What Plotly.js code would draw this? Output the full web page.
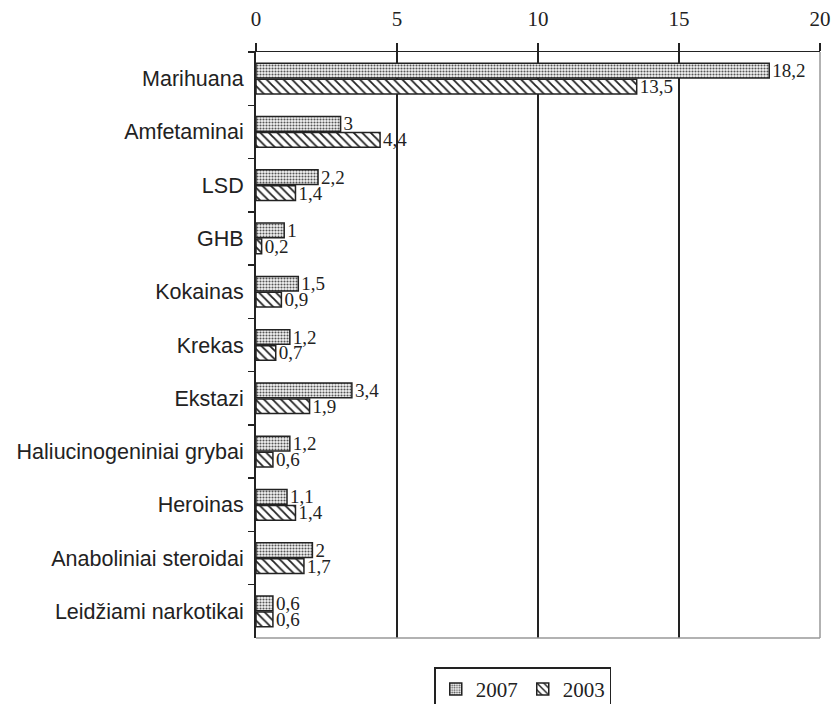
<!DOCTYPE html>
<html>
<head>
<meta charset="utf-8">
<script src="https://cdn.plot.ly/plotly-3.0.1.min.js"></script>
<style>html,body{margin:0;padding:0;background:#fff;}#chart{width:831px;height:704px;}</style>
</head>
<body>
<div id="chart"></div>
<script>
const categories = ["Marihuana","Amfetaminai","LSD","GHB","Kokainas","Krekas","Ekstazi","Haliucinogeniniai grybai","Heroinas","Anaboliniai steroidai","Leidžiami narkotikai"];
const values2007 = [18.2,3,2.2,1,1.5,1.2,3.4,1.2,1.1,2,0.6];
const values2003 = [13.5,4.4,1.4,0.2,0.9,0.7,1.9,0.6,1.4,1.7,0.6];
const xTicks = [0,5,10,15,20];

const fmt = v => String(v).replace('.', ',');
const serif = "Liberation Serif, Times New Roman, serif";
const sans = "Liberation Sans, Arial, sans-serif";

const t2007 = {
  type:'bar', orientation:'h', name:'2007',
  y: categories, x: values2007,
  text: values2007.map(fmt), textposition:'outside', cliponaxis:false, constraintext:'none',
  textfont:{family:serif, size:19, color:'#222'},
  outsidetextfont:{family:serif, size:19, color:'#222'},
  marker:{color:'#fff', line:{color:'#222', width:1.5},
    pattern:{shape:'.', fgcolor:'#555', bgcolor:'#f4f4f4', size:3, solidity:0.4}},
  hoverinfo:'x+y'
};
const t2003 = {
  type:'bar', orientation:'h', name:'2003',
  y: categories, x: values2003,
  text: values2003.map(fmt), textposition:'outside', cliponaxis:false, constraintext:'none',
  textfont:{family:serif, size:19, color:'#222'},
  outsidetextfont:{family:serif, size:19, color:'#222'},
  marker:{color:'#fff', line:{color:'#222', width:1.5},
    pattern:{shape:'\\', fgcolor:'#222', bgcolor:'#fff', size:6, solidity:0.3}},
  hoverinfo:'x+y'
};

const layout = {
  width:831, height:704,
  margin:{l:256, r:11, t:52, b:66, autoexpand:false},
  paper_bgcolor:'#fff', plot_bgcolor:'#fff',
  barmode:'group', bargap:0.4, bargroupgap:0.08,
  showlegend:true,
  legend:{orientation:'h', x:0.473, xanchor:'center', y:-0.05, yanchor:'top',
    bordercolor:'#222', borderwidth:1.5, font:{family:serif, size:21, color:'#222'},
    traceorder:'normal', itemwidth:30},
  xaxis:{side:'top', range:[0,20], tickvals:xTicks, ticktext:xTicks.map(String),
    showgrid:true, gridcolor:'#222', gridwidth:1.5,
    showline:true, linecolor:'#222', linewidth:1.5,
    ticks:'outside', ticklen:8, tickcolor:'#222', tickwidth:1.5,
    ticklabelstandoff:8,
    tickfont:{family:serif, size:21, color:'#222'}, zeroline:false, fixedrange:true},
  yaxis:{type:'category', autorange:'reversed',
    showline:true, linecolor:'#222', linewidth:2,
    ticks:'outside', tickson:'boundaries', ticklen:6, tickcolor:'#222', tickwidth:1.5,
    ticklabelstandoff:6,
    tickfont:{family:sans, size:21.5, color:'#222'}, showgrid:false, fixedrange:true},
  shapes:[
    {type:'line', xref:'paper', yref:'paper', x0:0, x1:1, y0:0, y1:0, line:{color:'#999', width:1.5}},
    {type:'line', xref:'paper', yref:'paper', x0:1, x1:1, y0:0, y1:1, line:{color:'#999', width:1.5}}
  ]
};

Plotly.newPlot('chart', [t2007, t2003], layout, {displayModeBar:false, staticPlot:true});
</script>
</body>
</html>
